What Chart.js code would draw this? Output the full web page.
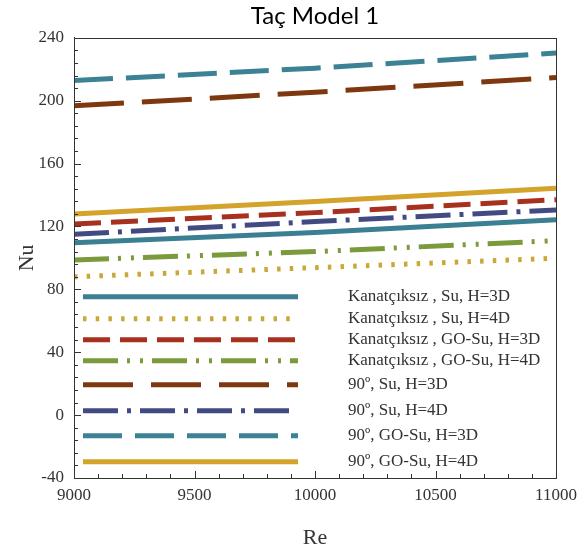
<!DOCTYPE html>
<html>
<head>
<meta charset="utf-8">
<title>Taç Model 1</title>
<script src="https://cdn.jsdelivr.net/npm/chart.js@4.4.3/dist/chart.umd.min.js"></script>
<style>
  html, body { margin: 0; padding: 0; background: #fff; }
  #wrap { width: 578px; height: 552px; }
</style>
</head>
<body>
<div id="wrap"><canvas id="chart" width="578" height="552"></canvas></div>
<script>
const reValues = [9000, 10000, 11000];

const seriesLabels = [
  'Kanatçıksız , Su, H=3D',
  'Kanatçıksız , Su, H=4D',
  'Kanatçıksız , GO-Su, H=3D',
  'Kanatçıksız , GO-Su, H=4D',
  '90º, Su, H=3D',
  '90º, Su, H=4D',
  '90º, GO-Su, H=3D',
  '90º, GO-Su, H=4D'
];

const kanatSu3D = [109.7, 116.1, 124.2];
const kanatSu4D = [88.0, 93.8, 99.8];
const kanatGoSu3D = [121.6, 128.8, 137.0];
const kanatGoSu4D = [98.7, 104.0, 111.0];
const deg90Su3D = [196.7, 205.4, 214.7];
const deg90Su4D = [115.0, 123.1, 130.5];
const deg90GoSu3D = [212.8, 220.7, 230.3];
const deg90GoSu4D = [128.0, 135.8, 144.3];

const xTicks = [9000, 9500, 10000, 10500, 11000];
const yTicks = [-40, 0, 40, 80, 120, 160, 200, 240];

const seriesValues = [kanatSu3D, kanatSu4D, kanatGoSu3D, kanatGoSu4D, deg90Su3D, deg90Su4D, deg90GoSu3D, deg90GoSu4D];

const lineColors = ['#3a7f92', '#c9a83a', '#a8301f', '#7b9a3c', '#7d3810', '#414b82', '#3b8294', '#d3a32c'];
const lineDashes = [
  [],
  [3.5, 9.2],
  [27, 10],
  [35, 9, 3, 10, 3, 9],
  [50, 18],
  [35, 9, 4, 9],
  [39, 13],
  []
];

const serif = '"Liberation Serif", "Times New Roman", serif';

// inward tick marks, minor every 100 / 8 units
const insideTicks = {
  id: 'insideTicks',
  afterDatasetsDraw(chart) {
    const { ctx, chartArea: ca, scales: { x, y } } = chart;
    ctx.save();
    ctx.strokeStyle = '#333';
    ctx.lineWidth = 1;
    ctx.beginPath();
    for (let v = x.min; v <= x.max; v += 100) {
      const px = Math.round(x.getPixelForValue(v)) + 0.5;
      const len = v % 500 === 0 ? 7 : 4;
      ctx.moveTo(px, ca.bottom);
      ctx.lineTo(px, ca.bottom - len);
    }
    for (let v = y.min; v <= y.max; v += 8) {
      const py = Math.round(y.getPixelForValue(v)) + 0.5;
      const len = v % 40 === 0 ? 7 : 4;
      ctx.moveTo(ca.left, py);
      ctx.lineTo(ca.left + len, py);
    }
    ctx.stroke();
    // frame around the plot
    ctx.strokeRect(Math.round(ca.left) + 0.5, Math.round(ca.top) + 0.5,
      Math.round(ca.width), Math.round(ca.height));
    ctx.restore();
  }
};

// legend drawn inside the plot, like the original
const innerLegend = {
  id: 'innerLegend',
  afterDraw(chart, args, opts) {
    const { ctx, chartArea: ca } = chart;
    ctx.save();
    chart.data.datasets.forEach((ds, i) => {
      const yy = ca.top + opts.rows[i];
      ctx.beginPath();
      ctx.strokeStyle = ds.borderColor;
      ctx.lineWidth = ds.borderWidth;
      ctx.setLineDash(ds.borderDash);
      ctx.moveTo(ca.left + opts.lineStart, yy);
      ctx.lineTo(ca.left + opts.lineEnd, yy);
      ctx.stroke();
      ctx.setLineDash([]);
      ctx.fillStyle = '#333';
      ctx.font = '17px ' + serif;
      ctx.textBaseline = 'middle';
      ctx.fillText(ds.label, ca.left + opts.textStart, yy);
    });
    ctx.restore();
  }
};

new Chart(document.getElementById('chart'), {
  type: 'line',
  data: {
    datasets: seriesLabels.map((label, i) => ({
      label: label,
      data: reValues.map((re, j) => ({ x: re, y: seriesValues[i][j] })),
      borderColor: lineColors[i],
      borderDash: lineDashes[i],
      borderWidth: 5,
      borderCapStyle: 'butt',
      pointRadius: 0,
      tension: 0,
      fill: false
    }))
  },
  options: {
    responsive: false,
    animation: false,
    devicePixelRatio: 1,
    layout: { padding: { top: 0, right: 22, bottom: 0, left: 0 } },
    plugins: {
      legend: { display: false },
      tooltip: { enabled: false },
      title: {
        display: true,
        fullSize: false,
        text: 'Taç Model 1',
        color: '#000',
        font: { family: 'Lato', size: 24, weight: 'normal' },
        padding: { top: 2, bottom: 7 }
      },
      innerLegend: {
        rows: [259, 281, 302, 323, 347, 373, 398, 424],
        lineStart: 9,
        lineEnd: 224,
        textStart: 274
      }
    },
    scales: {
      x: {
        type: 'linear',
        min: xTicks[0],
        max: xTicks[xTicks.length - 1],
        afterBuildTicks: s => { s.ticks = xTicks.map(v => ({ value: v })); },
        afterFit: s => { s.height = 74; s.paddingLeft = 0; s.paddingRight = 0; },
        grid: { drawOnChartArea: false, drawTicks: false },
        border: { display: true, color: '#333', width: 1 },
        ticks: { color: '#333', padding: 7, font: { family: serif, size: 17 }, callback: v => String(v) },
        title: { display: true, text: 'Re', color: '#333', font: { family: serif, size: 22 }, padding: { top: 0, bottom: 1 } }
      },
      y: {
        min: yTicks[0],
        max: yTicks[yTicks.length - 1],
        afterBuildTicks: s => { s.ticks = yTicks.map(v => ({ value: v })); },
        afterFit: s => { s.width = 74; },
        grid: { drawOnChartArea: false, drawTicks: false },
        border: { display: true, color: '#333', width: 1 },
        ticks: { color: '#333', padding: 10, font: { family: serif, size: 17 }, callback: v => String(v) },
        title: { display: true, text: 'Nu', color: '#333', font: { family: serif, size: 22 }, padding: { top: 14, bottom: 0 } }
      }
    }
  },
  plugins: [insideTicks, innerLegend]
});
</script>
</body>
</html>
